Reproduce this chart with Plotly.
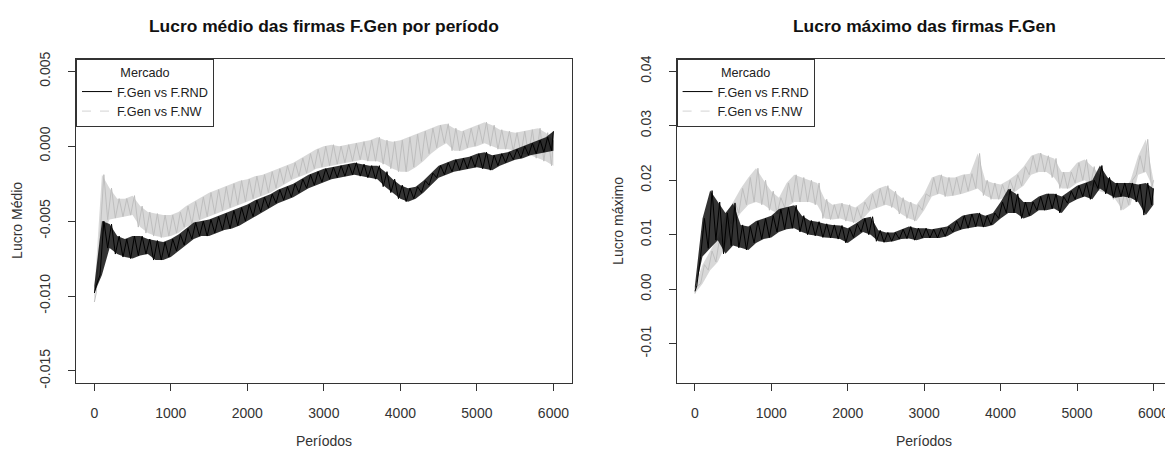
import plotly.graph_objects as go

periodos = list(range(0, 6001, 100))

# painel 1: lucro médio
medio_rnd_min = [-0.0098, -0.0086, -0.0068, -0.0072, -0.0074, -0.0075, -0.0073, -0.0072, -0.0076, -0.0076,
                 -0.0074, -0.0070, -0.0066, -0.0062, -0.0060, -0.0060, -0.0058, -0.0056, -0.0055, -0.0053,
                 -0.0050, -0.0047, -0.0044, -0.0041, -0.0038, -0.0036, -0.0034, -0.0031, -0.0028, -0.0026,
                 -0.0024, -0.0022, -0.0021, -0.0020, -0.0019, -0.0020, -0.0021, -0.0022, -0.0027, -0.0031,
                 -0.0035, -0.0037, -0.0035, -0.0031, -0.0026, -0.0021, -0.0019, -0.0017, -0.0016, -0.0015,
                 -0.0014, -0.0015, -0.0016, -0.0013, -0.0011, -0.0009, -0.0008, -0.0006, -0.0005, -0.0004,
                 -0.0003]
medio_rnd_max = [-0.0093, -0.0050, -0.0052, -0.0060, -0.0062, -0.0060, -0.0060, -0.0062, -0.0063, -0.0064,
                 -0.0062, -0.0059, -0.0055, -0.0051, -0.0050, -0.0049, -0.0047, -0.0045, -0.0043, -0.0041,
                 -0.0039, -0.0036, -0.0034, -0.0032, -0.0029, -0.0027, -0.0025, -0.0022, -0.0019, -0.0017,
                 -0.0015, -0.0014, -0.0013, -0.0012, -0.0011, -0.0012, -0.0013, -0.0013, -0.0017, -0.0022,
                 -0.0026, -0.0028, -0.0027, -0.0023, -0.0018, -0.0013, -0.0011, -0.0009, -0.0008, -0.0007,
                 -0.0005, -0.0004, -0.0006, -0.0005, -0.0004, -0.0002, 0.0000, 0.0002, 0.0004, 0.0006,
                 0.0010]
medio_nw_min = [-0.0104, -0.0060, -0.0049, -0.0048, -0.0047, -0.0046, -0.0054, -0.0058, -0.0060, -0.0061,
                -0.0060, -0.0058, -0.0054, -0.0052, -0.0049, -0.0047, -0.0045, -0.0043, -0.0041, -0.0039,
                -0.0037, -0.0035, -0.0033, -0.0031, -0.0028, -0.0025, -0.0022, -0.0020, -0.0018, -0.0015,
                -0.0014, -0.0013, -0.0012, -0.0011, -0.0010, -0.0009, -0.0010, -0.0010, -0.0012, -0.0015,
                -0.0017, -0.0017, -0.0014, -0.0010, -0.0005, -0.0001, 0.0002, -0.0003, -0.0003, -0.0001,
                0.0000, 0.0002, 0.0000, -0.0002, -0.0002, -0.0003, -0.0005, -0.0006, -0.0008, -0.0010,
                -0.0013]
medio_nw_max = [-0.0098, -0.0019, -0.0028, -0.0035, -0.0035, -0.0033, -0.0040, -0.0044, -0.0045, -0.0046,
                -0.0046, -0.0044, -0.0040, -0.0037, -0.0034, -0.0031, -0.0029, -0.0027, -0.0025, -0.0023,
                -0.0022, -0.0020, -0.0019, -0.0017, -0.0015, -0.0013, -0.0011, -0.0008, -0.0005, -0.0002,
                0.0000, 0.0001, 0.0000, 0.0001, 0.0002, 0.0003, 0.0004, 0.0006, 0.0004, 0.0003,
                0.0004, 0.0006, 0.0008, 0.0010, 0.0012, 0.0014, 0.0015, 0.0012, 0.0010, 0.0012,
                0.0014, 0.0016, 0.0014, 0.0011, 0.0010, 0.0009, 0.0010, 0.0011, 0.0012, 0.0009,
                0.0004]

# painel 2: lucro máximo
maximo_rnd_min = [-0.0004, 0.0060, 0.0075, 0.0090, 0.0065, 0.0080, 0.0076, 0.0072, 0.0085, 0.0092,
                  0.0095, 0.0105, 0.0110, 0.0112, 0.0105, 0.0100, 0.0098, 0.0095, 0.0094, 0.0092,
                  0.0085, 0.0095, 0.0105, 0.0100, 0.0088, 0.0086, 0.0088, 0.0092, 0.0093, 0.0090,
                  0.0094, 0.0094, 0.0094, 0.0097, 0.0105, 0.0110, 0.0112, 0.0115, 0.0114, 0.0118,
                  0.0130, 0.0140, 0.0140, 0.0130, 0.0135, 0.0145, 0.0145, 0.0148, 0.0140, 0.0158,
                  0.0165, 0.0170, 0.0165, 0.0185, 0.0175, 0.0168, 0.0170, 0.0168, 0.0160, 0.0136,
                  0.0155]
maximo_rnd_max = [0.0006, 0.0130, 0.0181, 0.0160, 0.0140, 0.0158, 0.0118, 0.0115, 0.0125, 0.0130,
                  0.0135, 0.0147, 0.0150, 0.0154, 0.0135, 0.0126, 0.0124, 0.0120, 0.0118, 0.0117,
                  0.0112, 0.0120, 0.0130, 0.0133, 0.0108, 0.0104, 0.0104, 0.0110, 0.0115, 0.0112,
                  0.0112, 0.0110, 0.0112, 0.0115, 0.0125, 0.0135, 0.0138, 0.0140, 0.0135, 0.0140,
                  0.0160, 0.0184, 0.0175, 0.0160, 0.0160, 0.0170, 0.0175, 0.0175, 0.0170, 0.0180,
                  0.0190, 0.0195, 0.0200, 0.0227, 0.0205, 0.0195, 0.0195, 0.0195, 0.0192, 0.0195,
                  0.0185]
maximo_nw_min = [-0.0008, 0.0010, 0.0035, 0.0050, 0.0080, 0.0120, 0.0140, 0.0155, 0.0160, 0.0155,
                 0.0145, 0.0138, 0.0150, 0.0160, 0.0160, 0.0160, 0.0155, 0.0130, 0.0128, 0.0130,
                 0.0125, 0.0122, 0.0130, 0.0145, 0.0150, 0.0155, 0.0150, 0.0138, 0.0130, 0.0125,
                 0.0145, 0.0170, 0.0175, 0.0170, 0.0172, 0.0175, 0.0180, 0.0185, 0.0172, 0.0165,
                 0.0165, 0.0172, 0.0180, 0.0190, 0.0210, 0.0215, 0.0215, 0.0205, 0.0185, 0.0185,
                 0.0195, 0.0200, 0.0190, 0.0180, 0.0175, 0.0165, 0.0145, 0.0155, 0.0210, 0.0215,
                 0.0185]
maximo_nw_max = [0.0005, 0.0045, 0.0070, 0.0095, 0.0135, 0.0160, 0.0185, 0.0205, 0.0222, 0.0200,
                 0.0180, 0.0168, 0.0195, 0.0210, 0.0205, 0.0200, 0.0195, 0.0165, 0.0155, 0.0158,
                 0.0155, 0.0150, 0.0160, 0.0175, 0.0185, 0.0190, 0.0180, 0.0168, 0.0160, 0.0155,
                 0.0175, 0.0205, 0.0210, 0.0205, 0.0205, 0.0210, 0.0212, 0.0249, 0.0200, 0.0195,
                 0.0192, 0.0200, 0.0210, 0.0225, 0.0245, 0.0250, 0.0245, 0.0240, 0.0215, 0.0215,
                 0.0232, 0.0238, 0.0225, 0.0210, 0.0205, 0.0190, 0.0180, 0.0200, 0.0245, 0.0275,
                 0.0200]

x_ticks = [0, 1000, 2000, 3000, 4000, 5000, 6000]
y1_ticks = [-0.015, -0.010, -0.005, 0.000, 0.005]
y1_labels = ["-0.015", "-0.010", "-0.005", "0.000", "0.005"]
y2_ticks = [-0.01, 0.00, 0.01, 0.02, 0.03, 0.04]
y2_labels = ["-0.01", "0.00", "0.01", "0.02", "0.03", "0.04"]

# a página padrão tem 8px de margem no body
OFF = 8
W, H = 1173 - OFF, 457 - OFF
FONT = "Liberation Sans, Arial, sans-serif"


def px_x(v):
    return (v - OFF) / W


def px_y(v):
    return 1 - (v - OFF) / H


def zigzag(lo, hi):
    # alterna mínimo e máximo de cada amostra para imitar a série ruidosa
    xs, ys = [], []
    for p, a, b in zip(periodos, lo, hi):
        xs += [max(p - 25, 1), min(p + 25, 6000)]
        ys += [a, b]
    return xs, ys


fig = go.Figure()

series = [
    (medio_nw_min, medio_nw_max, "#bebebe", "rgba(190,190,190,0.6)", "x", "y"),
    (medio_rnd_min, medio_rnd_max, "#000000", "rgba(0,0,0,0.8)", "x", "y"),
    (maximo_nw_min, maximo_nw_max, "#bebebe", "rgba(190,190,190,0.6)", "x2", "y2"),
    (maximo_rnd_min, maximo_rnd_max, "#000000", "rgba(0,0,0,0.8)", "x2", "y2"),
]
for lo, hi, cor, faixa, xa, ya in series:
    # faixa entre mínimo e máximo
    fig.add_trace(go.Scatter(x=periodos, y=lo, mode="lines", xaxis=xa, yaxis=ya,
                             line=dict(width=0), showlegend=False, hoverinfo="skip"))
    fig.add_trace(go.Scatter(x=periodos, y=hi, mode="lines", xaxis=xa, yaxis=ya, fill="tonexty",
                             fillcolor=faixa, line=dict(width=0), showlegend=False, hoverinfo="skip"))
    xs, ys = zigzag(lo, hi)
    fig.add_trace(go.Scatter(x=xs, y=ys, mode="lines", xaxis=xa, yaxis=ya,
                             line=dict(color=cor, width=1), showlegend=False))

# entradas de legenda (uma legenda por painel)
for leg in ["legend", "legend2"]:
    fig.add_trace(go.Scatter(x=[None], y=[None], mode="lines", name="F.Gen vs F.RND",
                             line=dict(color="black", width=1), legend=leg))
    fig.add_trace(go.Scatter(x=[None], y=[None], mode="lines", name="F.Gen vs F.NW",
                             line=dict(color="#d3d3d3", width=1, dash="dash"), legend=leg))

axis_common = dict(showline=True, linecolor="#333", linewidth=1, mirror=True,
                   ticks="outside", ticklen=7, tickcolor="#333", showgrid=False, zeroline=False,
                   tickfont=dict(family=FONT, size=14, color="#333"))

fig.update_layout(
    width=W, height=H, margin=dict(l=0, r=0, t=0, b=0),
    plot_bgcolor="white", paper_bgcolor="white",
    font=dict(family=FONT, size=13, color="#222"),
    xaxis=dict(domain=[px_x(76), px_x(571.8)], range=[-239, 6240], anchor="y",
               tickvals=x_ticks, ticklabelstandoff=10, **axis_common),
    yaxis=dict(domain=[px_y(386.7), px_y(52.7)], range=[-0.0158, 0.0058], anchor="x",
               tickvals=y1_ticks, ticktext=y1_labels, tickangle=-90, ticklabelstandoff=12, **axis_common),
    xaxis2=dict(domain=[px_x(676.6), px_x(1171.8)], range=[-239, 6240], anchor="y2",
                tickvals=x_ticks, ticklabelstandoff=10, **axis_common),
    yaxis2=dict(domain=[px_y(386.7), px_y(52.7)], range=[-0.0172, 0.0422], anchor="x2",
                tickvals=y2_ticks, ticktext=y2_labels, tickangle=-90, ticklabelstandoff=12, **axis_common),
)

leg_style = dict(title=dict(text="Mercado", side="top center", font=dict(size=12.7)),
                 bordercolor="#333", borderwidth=1, bgcolor="white", traceorder="normal",
                 xanchor="left", yanchor="top", itemwidth=30,
                 font=dict(family=FONT, size=12.7, color="#222"), tracegroupgap=0)
fig.update_layout(
    legend=dict(x=px_x(76), y=px_y(52.7), **leg_style),
    legend2=dict(x=px_x(676.6), y=px_y(52.7), **leg_style),
)

textos = [
    ("<b>Lucro médio das firmas F.Gen por período</b>", 323.9, 18.3, 0, 17.4),
    ("<b>Lucro máximo das firmas F.Gen</b>", 924.2, 18.3, 0, 17.4),
    ("Períodos", 323.9, 447, 0, 14),
    ("Períodos", 924.2, 447, 0, 14),
    ("Lucro Médio", 17, 219.5, -90, 14),
    ("Lucro máximo", 618, 219.5, -90, 14),
]
for t, xx, yy, ang, sz in textos:
    fig.add_annotation(text=t, x=px_x(xx), y=px_y(yy), xref="paper", yref="paper",
                       showarrow=False, textangle=ang, xanchor="center", yanchor="middle",
                       font=dict(family=FONT, size=sz, color="#111" if sz > 15 else "#333"))

fig.write_html("out.html")
